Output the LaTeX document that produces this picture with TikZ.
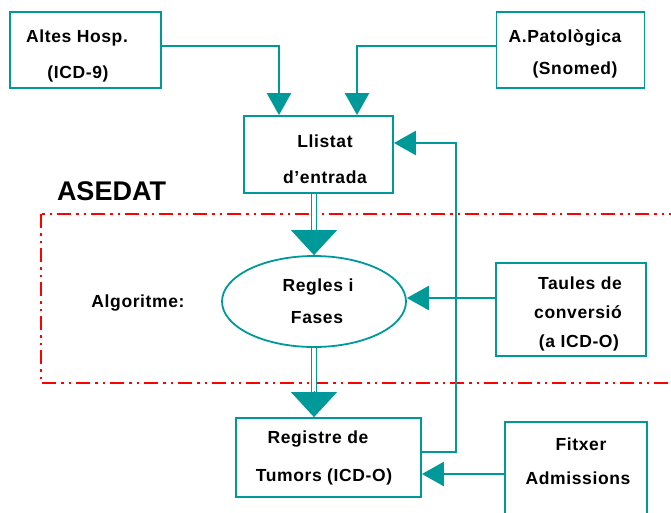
\documentclass[tikz,border=0pt]{standalone}
\usepackage{fontspec}
\setmainfont{Liberation Sans}
\newfontfamily\lblfont[LetterSpace=3.5]{Liberation Sans}
\usetikzlibrary{arrows.meta,shapes.geometric}
\definecolor{teal}{RGB}{0,153,153}
\definecolor{dred}{RGB}{255,0,0}
\begin{document}
\begin{tikzpicture}[x=1pt,y=-1pt,
  box/.style={draw=teal, line width=1.8pt, fill=white, inner sep=0pt},
  oval/.style={draw=teal, line width=1.8pt, ellipse, inner sep=0pt},
  lbl/.style={anchor=base, inner sep=0pt, font=\lblfont\bfseries\fontsize{17.5}{20}\selectfont},
  conn/.style={draw=teal, line width=2.5pt, -{Triangle[width=24pt,length=22pt]}},
  dbl/.style={draw=teal, line width=1.3pt, double=white, double distance=3.2pt},
  bigtip/.style={draw=teal, line width=1pt, -{Triangle[width=46pt,length=25pt]}},
  zone/.style={draw=dred, line width=1.6pt, dash pattern=on 14pt off 5pt on 2.5pt off 5pt on 2.5pt off 5pt}
]
\useasboundingbox (0,0) rectangle (671,512);
% ASEDAT zone
\draw[zone] (41,214) rectangle (720,383);
\node[anchor=base, inner sep=0pt, font=\bfseries\fontsize{27}{30}\selectfont] (asedat) at (111.5,200) {ASEDAT};
\node[lbl] (algo) at (138,307) {Algoritme:};

% boxes
\node[box, minimum width=151pt, minimum height=76pt] (altes) at (85.5,50) {};
\node[box, minimum width=148pt, minimum height=76pt] (patol) at (570.5,50) {};
\node[box, minimum width=149pt, minimum height=77pt] (llistat) at (318.5,154.5) {};
\node[oval, minimum width=184pt, minimum height=91pt] (regles) at (314,301.5) {};
\node[box, minimum width=150pt, minimum height=93pt] (taules) at (571,309.5) {};
\node[box, minimum width=185pt, minimum height=79pt] (registre) at (328.5,457.5) {};
\node[box, minimum width=142pt, minimum height=98pt] (fitxer) at (576,471) {};

% texts
\node[lbl] (t1a) at (77,42) {Altes Hosp.};
\node[lbl] (t1b) at (78,78) {(ICD-9)};
\node[lbl] (t2a) at (565,42) {A.Patològica};
\node[lbl] (t2b) at (575,74) {(Snomed)};
\node[lbl] (t3a) at (325,147) {Llistat};
\node[lbl] (t3b) at (325,183) {d’entrada};
\node[lbl] (t4a) at (318,291) {Regles i};
\node[lbl] (t4b) at (317,323) {Fases};
\node[lbl] (t5a) at (580,289) {Taules de};
\node[lbl] (t5b) at (578,318) {conversió};
\node[lbl] (t5c) at (579,347) {(a ICD-O)};
\node[lbl] (t6a) at (318,443) {Registre de};
\node[lbl] (t6b) at (324,481) {Tumors (ICD-O)};
\node[lbl] (t7a) at (581,450) {Fitxer};
\node[lbl] (t7b) at (578,484) {Admissions};

% connectors
\draw[conn] ([yshift=4pt]altes.east) -| ([xshift=-39.5pt]llistat.north);
\draw[conn] ([yshift=4pt]patol.west) -| ([xshift=38.5pt]llistat.north);
\draw[conn] ([yshift=11.5pt]taules.west) -- ([yshift=3.5pt]regles.east);
\draw[conn] ([yshift=5.5pt]registre.east) -- ++(34,0) |- ([yshift=11.5pt]llistat.east);
\draw[conn] ([yshift=-3pt]fitxer.west) -- ([yshift=-16.5pt]registre.east);

% double arrows
\draw[dbl] (regles.north |- llistat.south) -- ([yshift=24pt]regles.north);
\draw[bigtip] ([yshift=25pt]regles.north) -- (regles.north);
\draw[dbl] (regles.south) -- ([yshift=25pt]registre.north -| regles.south);
\draw[bigtip] ([yshift=26pt]registre.north -| regles.south) -- (registre.north -| regles.south);
\end{tikzpicture}
\end{document}
